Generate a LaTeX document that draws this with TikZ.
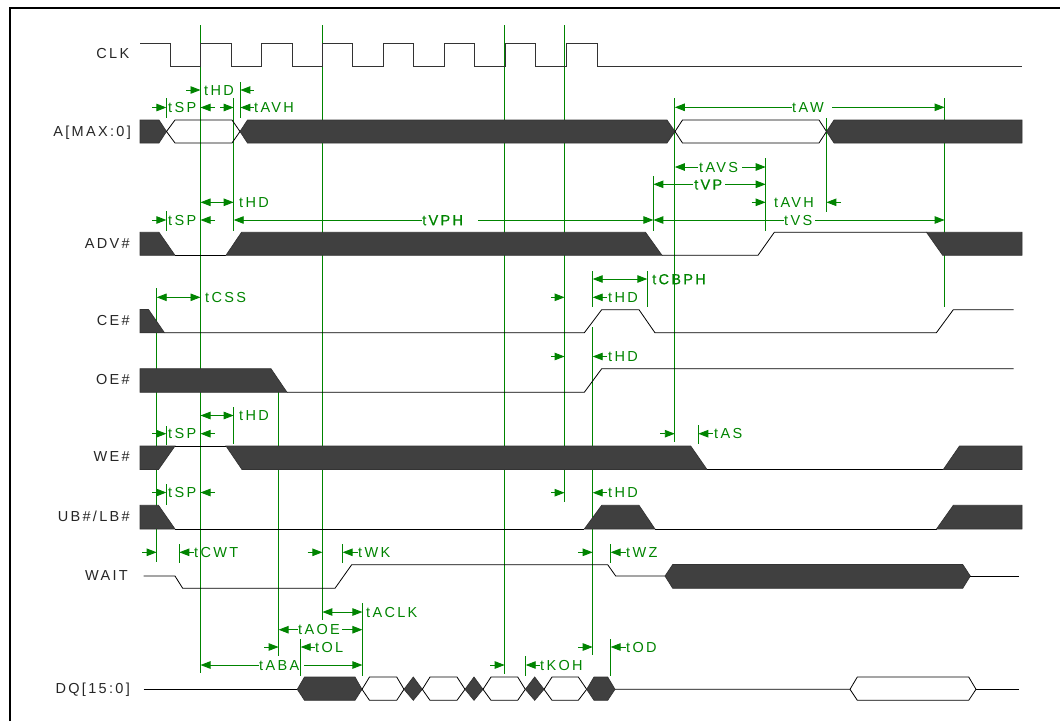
\documentclass[tikz,border=0pt]{standalone}
\usepackage{fontspec}
\setmainfont{Liberation Sans}[LetterSpace=16]
\usetikzlibrary{arrows.meta}
\definecolor{gr}{RGB}{0,132,0}
\definecolor{dk}{RGB}{64,64,64}
\tikzset{
  x=1pt,y=-1pt,
  guide/.style={draw=gr,line width=1.1pt},
  dim/.style={draw=gr,line width=0.9pt,arrows={-Triangle[length=10pt,width=7.5pt,fill=gr]}},
  dimb/.style={draw=gr,line width=0.9pt,arrows={Triangle[length=10pt,width=7.5pt,fill=gr]-Triangle[length=10pt,width=7.5pt,fill=gr]}},
  lab/.style={anchor=west,inner sep=0pt,text=gr,font=\fontsize{14.5}{15}\selectfont,text height=10.4pt,text depth=0pt},
  labb/.style={lab,font=\fontsize{14.5}{15}\selectfont\addfontfeature{FakeBold=0.7}},
  sig/.style={anchor=east,inner sep=0pt,text=black!85,font=\fontsize{14.5}{15}\selectfont,text height=10.4pt,text depth=2pt},
  wave/.style={draw=black,line width=0.8pt,line join=miter},
  dark/.style={draw=black!80,fill=dk,line width=0.7pt,line join=miter},
}
\begin{document}
\begin{tikzpicture}
\useasboundingbox (0,0) rectangle (1060,721);
% frame
\coordinate (fb) at (9.5,721);
\coordinate (fc) at (9.5,8);
\coordinate (fd) at (1060,8);
\draw[black,line width=2pt] (fb) -- (fc) -- (fd);
% signal names
\node[sig] (nclk) at (129.5,54) {CLK};
\node[sig] (na) at (131,132) {A[MAX:0]};
\node[sig] (nadv) at (130,244) {ADV\#};
\node[sig] (nce) at (130,321) {CE\#};
\node[sig] (noe) at (130,380) {OE\#};
\node[sig] (nwe) at (130,457) {WE\#};
\node[sig] (nub) at (130,517) {UB\#/LB\#};
\node[sig] (nwait) at (128,576) {WAIT};
\node[sig] (ndq) at (130,689) {DQ[15:0]};
% long guide lines
\foreach \x/\a/\b in {200.5/25/673, 322.4/25/620, 504.7/25/673.5, 564.6/25/502, 674.8/98/442, 944.6/98/307,
  826.4/118/212, 765.7/158/231, 653.4/176/231, 233.7/98/231, 240.4/82/118, 166.4/98/118, 166.4/211/231,
  166.4/426/445, 166.4/484/505, 156.7/288/561.5, 233.7/407/444, 278.6/392/655.5, 300.7/639/675.5,
  362.4/603/675.5, 179.3/544/563, 342.6/544/563, 610.6/544/563, 610.6/639/675.5, 525.7/656/675.5,
  698.3/425/444, 647.3/271/307, 592.7/271/307, 592.7/327/655}
  {\draw[guide] (\x,\a) -- (\x,\b);}
% CLK
\draw[wave,draw=black!80] (140,43) -- (170,43) -- (170,66) -- (200,66) -- (200,43) -- (231,43) -- (231,66) -- (261,66) -- (261,43) -- (292,43) -- (292,66) -- (322,66) -- (322,43) -- (352,43) -- (352,66) -- (383,66) -- (383,43) -- (413,43) -- (413,66) -- (444,66) -- (444,43) -- (474,43) -- (474,66) -- (505,66) -- (505,43) -- (535,43) -- (535,66) -- (566,66) -- (566,43) -- (597,43) -- (597,66) -- (1022,66);
% A
\fill[dark] (140,120) -- (159,120) -- (166.5,131.5) -- (159,143) -- (140,143) -- cycle;
\draw[wave] (166.5,131.5) -- (175,120) -- (232,120) -- (240,131.5) -- (232,143) -- (175,143) -- cycle;
\fill[dark] (240,131.5) -- (247.5,120) -- (667,120) -- (675,131.5) -- (667,143) -- (247.5,143) -- cycle;
\draw[wave] (675,131.5) -- (682.5,120) -- (819,120) -- (826.5,131.5) -- (819,143) -- (682.5,143) -- cycle;
\fill[dark] (826.5,131.5) -- (834,120) -- (1022,120) -- (1022,143) -- (834,143) -- cycle;
% ADV
\fill[dark] (140,232.3) -- (159,232.3) -- (175,255.3) -- (140,255.3) -- cycle;
\draw[wave] (175,255.3) -- (226,255.3);
\fill[dark] (226,255.3) -- (241.5,232.3) -- (645.5,232.3) -- (662,255.3) -- cycle;
\draw[wave] (662,255.3) -- (758,255.3) -- (774.3,232.3) -- (926.5,232.3);
\fill[dark] (926.5,232.3) -- (1022,232.3) -- (1022,255.3) -- (942.7,255.3) -- cycle;
% CE
\fill[dark] (140,309.5) -- (148.5,309.5) -- (164.5,332.8) -- (140,332.8) -- cycle;
\draw[wave] (164.5,332.8) -- (584.3,332.8) -- (601.7,309.7) -- (639,309.7) -- (655,332.8) -- (936.3,332.8) -- (953.3,309.7) -- (1013.5,309.7);
% OE
\fill[dark] (140,368.7) -- (271,368.7) -- (287,392.3) -- (140,392.3) -- cycle;
\draw[wave] (287,392.3) -- (584.3,392.3) -- (601.7,368.7) -- (1013.5,368.7);
% WE
\fill[dark] (140,446) -- (175,446) -- (158.5,469.5) -- (140,469.5) -- cycle;
\draw[wave] (175,446) -- (226,446);
\fill[dark] (226,446) -- (690.7,446) -- (707,469.5) -- (242,469.5) -- cycle;
\draw[wave] (707,469.5) -- (943.3,469.5);
\fill[dark] (943.3,469.5) -- (959.5,446) -- (1022,446) -- (1022,469.5) -- cycle;
% UB
\fill[dark] (140,505.3) -- (158.5,505.3) -- (175,529) -- (140,529) -- cycle;
\draw[wave] (175,529) -- (584.3,529);
\fill[dark] (584.3,529) -- (601.7,505.3) -- (639,505.3) -- (655,529) -- cycle;
\draw[wave] (655,529) -- (936.5,529);
\fill[dark] (936.5,529) -- (953.3,505.3) -- (1022,505.3) -- (1022,529) -- cycle;
% WAIT
\draw[wave] (143.5,576) -- (175,576) -- (182.7,588.3) -- (335,588.3) -- (351.7,564.7) -- (607.7,564.7) -- (615.7,576) -- (665,576);
\fill[dark] (665,576) -- (672.7,564.5) -- (962.7,564.5) -- (970.3,576) -- (962.7,588.3) -- (672.7,588.3) -- cycle;
\draw[wave] (970.3,576) -- (1018.5,576);
% DQ
\draw[wave] (143.5,689.3) -- (297.3,689.3);
\fill[dark] (297.3,689.3) -- (304.5,677) -- (355,677) -- (362,689.3) -- (355,700.3) -- (304.5,700.3) -- cycle;
\draw[wave] (362,689.3) -- (369.5,677) -- (396.7,677) -- (404,689.3) -- (396.7,700.3) -- (369.5,700.3) -- cycle;
\fill[dark] (404,689.3) -- (413.3,677) -- (422.3,689.3) -- (413.3,700.3) -- cycle;
\draw[wave] (422.3,689.3) -- (430,677) -- (457,677) -- (465,689.3) -- (457,700.3) -- (430,700.3) -- cycle;
\fill[dark] (465,689.3) -- (474,677) -- (483,689.3) -- (474,700.3) -- cycle;
\draw[wave] (483,689.3) -- (491,677) -- (517.7,677) -- (525.3,689.3) -- (517.7,700.3) -- (491,700.3) -- cycle;
\fill[dark] (525.3,689.3) -- (534.7,677) -- (544,689.3) -- (534.7,700.3) -- cycle;
\draw[wave] (544,689.3) -- (552,677) -- (578.3,677) -- (586.7,689.3) -- (578.3,700.3) -- (552,700.3) -- cycle;
\fill[dark] (586.7,689.3) -- (594,677) -- (607.7,677) -- (615,689.3) -- (607.7,700.3) -- (594,700.3) -- cycle;
\draw[wave] (615,689.3) -- (850,689.3) -- (857.3,677) -- (968.7,677) -- (976,689.3) -- (968.7,700.3) -- (857.3,700.3) -- (850,689.3);
\draw[wave] (976,689.3) -- (1018.5,689.3);
% dimension arrows and labels: tip last
\foreach \a/\b/\y in {186/200.5/90, 254/240.4/90, 152.3/166.4/107.5, 215/200.5/107.5, 220/233.7/107.5, 254/240.4/107.5,
  152.3/166.4/220, 215/200.5/220, 422/233.7/220, 478/653.4/220, 784/653.4/220, 815/944.6/220,
  791.5/674.8/107.3, 832/944.6/107.3, 698/674.8/167, 742/765.7/167, 693/653.4/184.3, 725/765.7/184.3,
  751.7/765.7/202.3, 841/826.4/202.3, 551/564.6/297.3, 607/592.7/297.3, 551/564.6/356.5, 607/592.7/356.5,
  152.3/166.4/433.7, 215/200.5/433.7, 660/674.8/433.7, 713/698.3/433.7, 152.3/166.4/492.5, 215/200.5/492.5,
  551/564.6/492.7, 607/592.7/492.7, 142/156.7/552.3, 194/179.3/552.3, 307.7/322.4/552.3, 358/342.6/552.3,
  578/592.7/552.3, 626/610.6/552.3, 298/278.6/629.7, 342/362.4/629.7, 264.3/278.6/647, 315/300.7/647,
  259/200.5/665, 304/362.4/665, 578/592.7/647, 626/610.6/647, 490/504.7/665, 540/525.7/665}
  {\draw[dim] (\a,\y) -- (\b,\y);}
\foreach \a/\b/\y in {200.5/233.7/202.3, 592.7/647.3/279, 156.7/200.5/297.3, 200.5/233.7/415.5, 322.4/362.4/612}
  {\draw[dimb] (\a,\y) -- (\b,\y);}
\foreach \n/\x/\y/\t in {l1/204/90/tHD, l2/168/107.5/tSP, l3/254/107.5/tAVH, l4/239/202.3/tHD, l5/168/220/tSP,
  l7/784/220/tVS, l8/792/107.3/tAW, l9/699/167/tAVS, l11/774/202.3/tAVH,
  l13/608/297.3/tHD, l14/205/297.3/tCSS, l15/608/356.5/tHD, l16/239/415.5/tHD, l17/168/433.7/tSP,
  l18/714/433.7/tAS, l19/168/492.5/tSP, l20/608/492.7/tHD, l21/194/552.3/tCWT, l22/358/552.3/tWK, l23/626/552.3/tWZ,
  l24/366/612/tACLK, l25/298/629.7/tAOE, l26/315/647/tOL, l27/259/665/tABA, l28/626/647/tOD, l29/540/665/tKOH}
  {\node[lab] (\n) at (\x,\y) {\t};}
\node[labb] (l6) at (422,220) {tVPH};
\node[labb] (l10) at (694,184.3) {tVP};
\node[labb] (l12) at (652,279) {tCBPH};
\end{tikzpicture}
\end{document}
